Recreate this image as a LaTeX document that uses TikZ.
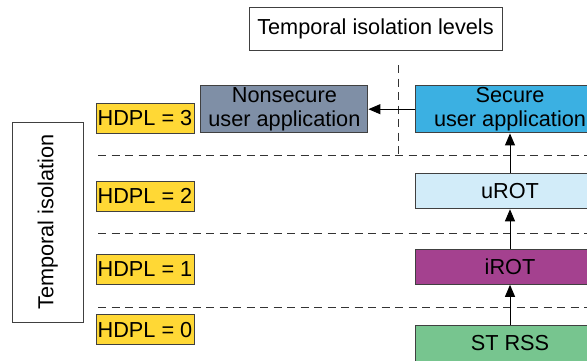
\documentclass[tikz,border=0pt]{standalone}
\usepackage{fontspec}
\setmainfont{Liberation Sans}
\usepackage{tikz}
\usetikzlibrary{calc,arrows.meta}
\usepackage{xcolor}
\definecolor{hdplyellow}{RGB}{255,216,53}
\definecolor{nsgray}{RGB}{127,143,166}
\definecolor{secblue}{RGB}{59,176,226}
\definecolor{urotblue}{RGB}{210,236,249}
\definecolor{irotpurple}{RGB}{164,65,143}
\definecolor{rssgreen}{RGB}{119,197,143}
\tikzset{
  box/.style={draw=black!75,line width=1pt,inner sep=0pt,align=center,
    font=\fontsize{21.7}{24.5}\selectfont},
  levelline/.style={black!80,line width=1pt,dash pattern=on 8pt off 5.5pt},
  arr/.style={-{Triangle[length=12pt,width=10pt]},line width=1pt}
}
\newcommand{\hdpl}[3]{\node[box,fill=hdplyellow,minimum width=98pt,minimum height=30pt] (#1) at (145,#2) {HDPL = #3};}
\newcommand{\stage}[5]{\node[box,fill=#4,minimum width=190pt,minimum height=#3] (#1) at (510,#2) {#5};}

\begin{document}
\begin{tikzpicture}[x=1pt,y=-1pt]
        \useasboundingbox (0,0) rectangle (587,360);
        \clip (0,0) rectangle (587,360);

        \node[box,minimum width=253pt,minimum height=43pt] (title) at (375.5,28.5) {Temporal isolation levels};
        \node[box,rotate=90,minimum width=200pt,minimum height=71pt] (temporal) at (47.7,222) {Temporal isolation};

% level separators
\draw[levelline] (98,155.7) -- (587,155.7);
\draw[levelline] (398,65) -- (398,155.7);
\draw[levelline] (98,233.3) -- (587,233.3);
\draw[levelline] (98,307.3) -- (587,307.3);

        \hdpl{h3}{118}{3}
        \hdpl{h2}{196.3}{2}
        \hdpl{h1}{269}{1}
        \hdpl{h0}{329.7}{0}

        \node[box,fill=nsgray,minimum width=167pt,minimum height=47pt] (nonsecure) at (284.4,109.2) {Nonsecure\\user application};
        \stage{secure}{109.2}{47.5pt}{secblue}{Secure\\user application}
        \stage{urot}{191}{35.5pt}{urotblue}{uROT}
        \stage{irot}{266.8}{35pt}{irotpurple}{iROT}
        \stage{rss}{343.5}{35.5pt}{rssgreen}{ST RSS}

\draw[arr] (secure.west) -- (nonsecure.east);
\draw[arr] (urot.north) -- (secure.south);
\draw[arr] (irot.north) -- (urot.south);
\draw[arr] (rss.north) -- (irot.south);

    \end{tikzpicture}
\end{document}
